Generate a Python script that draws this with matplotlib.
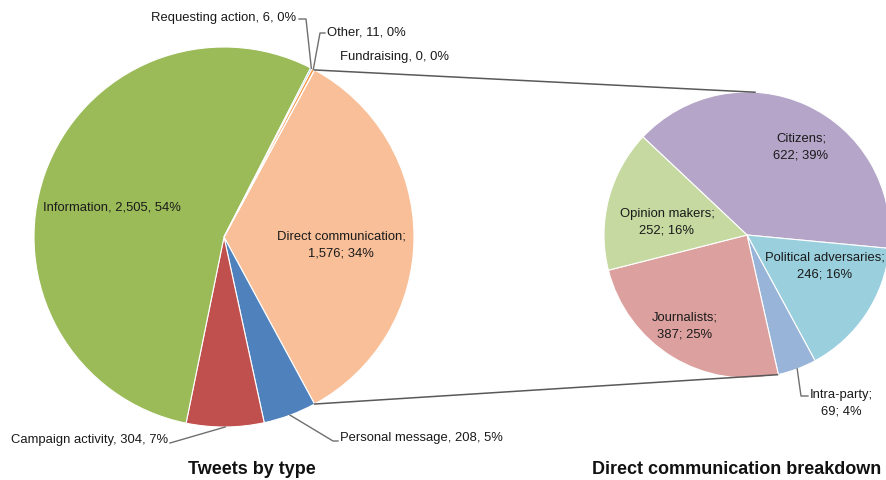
import numpy as np
import matplotlib.pyplot as plt

plt.rcParams['font.family'] = ['Liberation Sans', 'DejaVu Sans']

# -----------------------------
# Data
# -----------------------------
type_labels = ["Direct communication", "Personal message", "Campaign activity",
               "Information", "Requesting action", "Other", "Fundraising"]
type_counts = [1576, 208, 304, 2505, 6, 11, 0]
type_colors = ["#F9BF98", "#4F81BD", "#C0504D", "#9BBB59", "#4BACC6", "#F79646", "#8064A2"]

dc_labels = ["Citizens", "Political adversaries", "Intra-party", "Journalists", "Opinion makers"]
dc_counts = [622, 246, 69, 387, 252]
dc_colors = ["#B5A6C9", "#9ACFDE", "#98B4D8", "#DCA19F", "#C5D9A0"]

W, H = 887, 480


def P(x, y):
    # pixel coords (top-left origin) -> data coords
    return x, H - y


def edge_pt(c, r, ang):
    a = np.deg2rad(ang)
    return c[0] + r * np.cos(a), c[1] + r * np.sin(a)


fig = plt.figure(figsize=(W / 100, H / 100), dpi=100)
ax = fig.add_axes([0, 0, 1, 1])

left_c, left_r = P(224, 237), 190
right_c, right_r = P(747, 235), 143

total = sum(type_counts)
dc_share = type_counts[0] / total * 360
start_left = dc_share / 2

lw, _ = ax.pie(type_counts, colors=type_colors, startangle=start_left, counterclock=False,
               center=left_c, radius=left_r,
               wedgeprops=dict(edgecolor="white", linewidth=0.8))
rw, _ = ax.pie(dc_counts, colors=dc_colors, startangle=136.7, counterclock=False,
               center=right_c, radius=right_r,
               wedgeprops=dict(edgecolor="white", linewidth=0.8))

# connector lines between the pies
top_l = edge_pt(left_c, left_r, start_left)
bot_l = edge_pt(left_c, left_r, -start_left)
top_r = edge_pt(right_c, right_r, 86.8)
bot_r = edge_pt(right_c, right_r, -77.7)
ax.plot([top_l[0], top_r[0]], [top_l[1], top_r[1]], color="#595959", lw=1.1)
ax.plot([bot_l[0], bot_r[0]], [bot_l[1], bot_r[1]], color="#595959", lw=1.1)

fs = 9.4
ls = 1.45
tc = "#1a1a1a"
lc = "#6f6f6f"


def fmt(i, sep=", "):
    pct = round(type_counts[i] / total * 100)
    return f"{type_labels[i]}{sep}{type_counts[i]:,}{sep}{pct}%"


def mid(w, frac=1.0):
    ang = (w.theta1 + w.theta2) / 2
    return edge_pt(w.center, w.r * frac, ang)


def leader(pts):
    xs = [p[0] for p in pts]
    ys = [p[1] for p in pts]
    ax.plot(xs, ys, color=lc, lw=1)


# left pie labels
ax.text(*P(112, 207), fmt(3), ha="center", va="center", fontsize=fs, color=tc)
ax.text(*P(341, 245), f"{type_labels[0]};\n{type_counts[0]:,}; {round(type_counts[0] / total * 100)}%",
        ha="center", va="center", fontsize=fs, color=tc, linespacing=ls)

# Requesting action
ax.text(*P(296, 18), fmt(4), ha="right", va="center", fontsize=fs, color=tc)
leader([P(299, 19), P(306, 19), mid(lw[4])])
# Other
ax.text(*P(327, 32), fmt(5), ha="left", va="center", fontsize=fs, color=tc)
leader([P(325, 33), P(320, 33), mid(lw[5])])
# Fundraising
ax.text(*P(340, 57), fmt(6), ha="left", va="center", fontsize=fs, color=tc)
# Campaign activity
ax.text(*P(168, 440), fmt(2), ha="right", va="center", fontsize=fs, color=tc)
leader([P(170, 443), mid(lw[2])])
# Personal message
ax.text(*P(340, 438), fmt(1), ha="left", va="center", fontsize=fs, color=tc)
leader([P(338, 441), P(333, 441), mid(lw[1])])

# right pie labels
dc_total = sum(dc_counts)


def fmt_dc(i):
    return f"{dc_labels[i]};\n{dc_counts[i]}; {round(dc_counts[i] / dc_total * 100)}%"


inside_pos = {0: (801, 147), 1: (825, 266), 3: (685, 326), 4: (667, 222)}
for i, (x, y) in inside_pos.items():
    ax.text(*P(x, y), fmt_dc(i), ha="center", va="center", fontsize=fs, color=tc, linespacing=ls)

ax.text(*P(841, 403), fmt_dc(2), ha="center", va="center", fontsize=fs, color=tc, linespacing=ls)
leader([mid(rw[2]), P(801, 396), P(808, 396)])

# titles
ax.text(*P(252, 470), "Tweets by type", ha="center", va="center", fontsize=13,
        fontweight="bold", color="#111111")
ax.text(*P(737, 470), "Direct communication breakdown", ha="center", va="center", fontsize=13,
        fontweight="bold", color="#111111")

ax.set_xlim(0, W)
ax.set_ylim(0, H)
ax.set_aspect("equal")
ax.axis("off")

plt.savefig("out.png", dpi=100)
plt.close()
